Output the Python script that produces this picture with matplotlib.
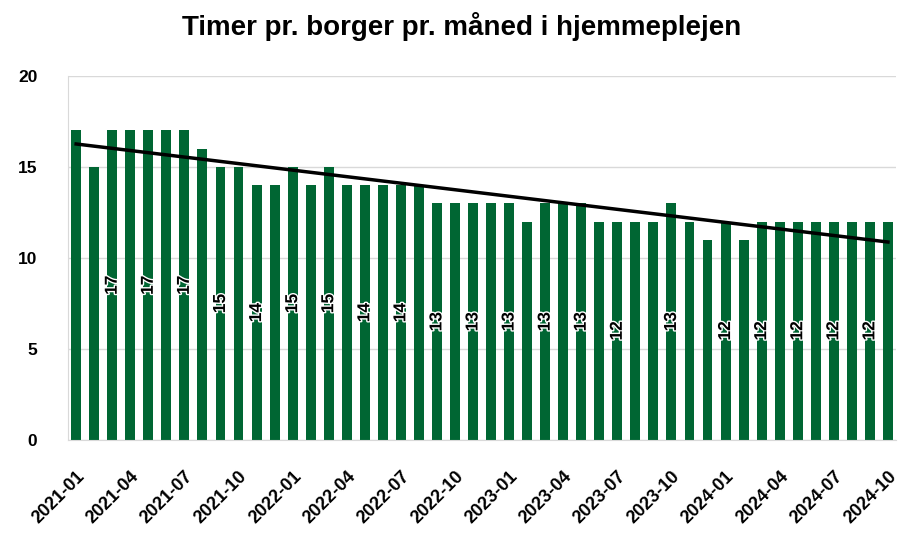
import numpy as np
import matplotlib
matplotlib.use("Agg")
import matplotlib.pyplot as plt
import matplotlib.patheffects as pe

plt.rcParams['font.family'] = ['Liberation Sans', 'DejaVu Sans']

months = [f"{y}-{m:02d}" for y in (2021, 2022, 2023, 2024) for m in range(1, 13)][:46]
values = [17, 15, 17, 17, 17, 17, 17, 16, 15, 15, 14, 14,
          15, 14, 15, 14, 14, 14, 14, 14, 13, 13, 13, 13,
          13, 12, 13, 13, 13, 12, 12, 12, 12, 13, 12, 11,
          12, 11, 12, 12, 12, 12, 12, 12, 12, 12]
labelled = [2, 4, 6, 8, 10, 12, 14, 16, 18, 20, 22, 24, 26, 28, 30, 33, 36, 38, 40, 42, 44]
title = "Timer pr. borger pr. måned i hjemmeplejen"

x = np.arange(len(values))
fig = plt.figure(figsize=(9, 5.34), dpi=100)
ax = fig.add_axes([0.0756, 0.176, 0.92, 0.682])

ax.bar(x, values, width=0.55, color='#006633', zorder=2)

coef = np.polyfit(x, values, 1)
ax.plot([x[0], x[-1]], np.polyval(coef, [x[0], x[-1]]), color='black', lw=2.5, zorder=3)

for i in labelled:
    ax.text(x[i], values[i] / 2, str(values[i]), rotation=90, ha='center', va='center',
            fontsize=12.5, fontweight='bold', color='black', zorder=4,
            path_effects=[pe.withStroke(linewidth=2, foreground='white')])

ax.set_ylim(0, 20)
ax.set_yticks([0, 5, 10, 15, 20])
ax.set_xlim(-0.45, len(values) - 0.55)
ax.set_xticks(x[::3])
ax.set_xticklabels(months[::3], rotation=45, ha='right', rotation_mode='anchor')
ax.tick_params(axis='x', length=0, labelsize=13, pad=20)
ax.tick_params(axis='y', length=0, labelsize=12.5, pad=22)
for lab in ax.get_xticklabels() + ax.get_yticklabels():
    lab.set_fontweight('bold')
ax.grid(axis='y', color='#d9d9d9', lw=1, zorder=0)
for s in ['top', 'right']:
    ax.spines[s].set_visible(False)
ax.spines['left'].set_color('#d9d9d9')
ax.spines['bottom'].set_color('#d9d9d9')

fig.suptitle(title, x=0.513, y=0.978, fontsize=20, fontweight='bold')
fig.savefig('out.png', dpi=100)
